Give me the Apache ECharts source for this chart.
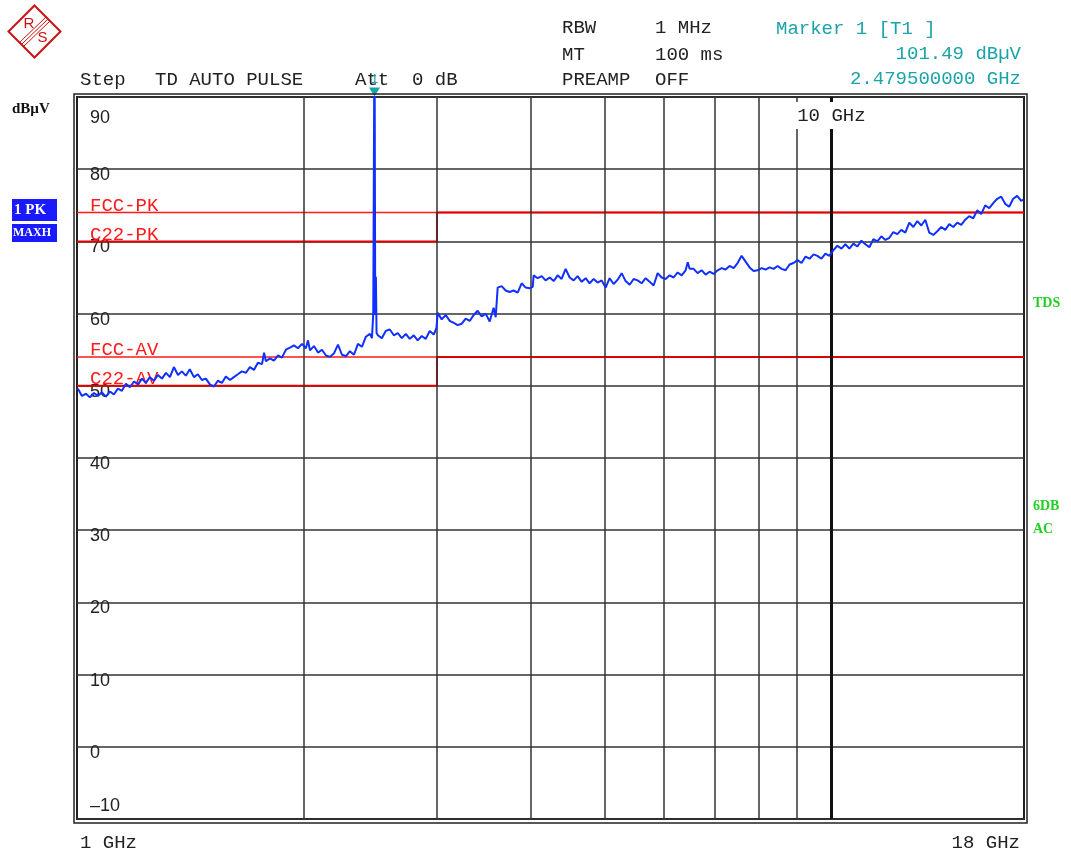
<!DOCTYPE html>
<html><head><meta charset="utf-8">
<script src="https://cdn.jsdelivr.net/npm/echarts@6/dist/echarts.min.js"></script>
<style>html,body{margin:0;padding:0;background:#fff}#c{width:1071px;height:852px}</style>
</head><body><div id="c"></div>
<script>
// ---- data (frequency in GHz, level in dBµV) ----
const freqGHz = [
1.003,1.015,1.028,1.040,1.053,1.066,1.079,1.092,1.106,1.119,1.133,1.147,1.161,1.175,1.190,1.205,1.219,1.234,1.249,1.265,
1.280,1.296,1.312,1.328,1.344,1.361,1.377,1.394,1.411,1.429,1.446,1.464,1.482,1.500,1.519,1.537,1.556,1.575,1.595,1.614,
1.634,1.654,1.675,1.695,1.716,1.737,1.759,1.770,1.780,1.802,1.824,1.847,1.869,1.892,1.916,1.939,1.963,1.987,2.011,2.024,
2.036,2.061,2.087,2.112,2.138,2.164,2.191,2.218,2.245,2.273,2.300,2.329,2.357,2.386,2.415,2.445,2.460,2.470,2.4795,2.485,
2.490,2.495,2.505,2.535,2.566,2.598,2.630,2.662,2.695,2.728,2.761,2.795,2.829,2.864,2.899,2.935,2.971,2.995,3.007,3.044,
3.082,3.119,3.158,3.196,3.236,3.275,3.316,3.356,3.397,3.439,3.481,3.524,3.567,3.589,3.611,3.655,3.700,3.745,3.791,3.838,
3.885,3.933,3.981,4.018,4.030,4.080,4.130,4.180,4.232,4.284,4.336,4.389,4.443,4.498,4.553,4.609,4.666,4.723,4.781,4.840,
4.899,4.959,5.020,5.082,5.144,5.208,5.272,5.336,5.402,5.468,5.535,5.603,5.672,5.742,5.812,5.884,5.956,6.029,6.103,6.178,
6.254,6.331,6.408,6.450,6.487,6.567,6.647,6.729,6.812,6.895,6.980,7.066,7.152,7.240,7.329,7.419,7.510,7.602,7.696,7.790,
7.886,7.983,8.081,8.180,8.281,8.382,8.485,8.589,8.695,8.801,8.909,9.019,9.129,9.241,9.355,9.470,9.582,9.700,9.819,9.939,
10.061,10.185,10.310,10.436,10.564,10.694,10.825,10.958,11.092,11.228,11.366,11.505,11.647,11.789,11.934,12.080,12.229,12.379,12.530,12.684,
12.840,12.997,13.157,13.318,13.481,13.647,13.814,13.984,14.155,14.329,14.505,14.683,14.863,15.045,15.230,15.417,15.606,15.797,15.991,16.187,
16.386,16.587,16.790,16.996,17.205,17.416,17.630,17.846,17.955
];
const levelDbuv = [
49.6,48.6,48.9,48.4,49.0,48.6,49.1,48.5,49.2,48.8,49.6,49.3,50.3,49.8,50.6,50.2,51.0,50.4,51.2,50.7,
51.5,51.0,51.8,51.2,52.6,51.5,52.0,51.4,52.3,51.2,51.6,50.8,51.0,50.2,49.9,50.7,50.4,51.3,50.8,51.2,
51.6,52.0,51.8,52.6,52.2,53.2,53.0,54.6,53.4,53.8,53.5,54.2,53.9,55.0,55.3,55.6,55.2,55.8,55.2,56.3,
54.9,55.5,54.6,55.0,54.2,54.0,54.5,55.7,54.3,54.1,54.8,54.3,55.8,55.4,56.8,57.2,56.6,60.0,101.49,59.8,
65.1,57.3,57.0,56.6,57.6,57.8,57.0,57.3,56.6,57.2,56.5,57.0,56.3,56.9,56.5,57.6,57.1,58.0,60.1,59.2,
59.8,59.0,58.7,58.4,58.6,59.3,59.0,59.8,60.4,59.6,60.0,58.9,60.8,59.5,63.6,63.8,63.2,63.0,63.2,62.9,
64.2,63.6,63.5,63.7,65.3,64.9,65.2,64.6,65.0,64.5,65.3,64.8,66.2,65.0,64.6,65.2,64.4,64.9,64.2,64.8,
64.3,64.6,63.6,64.9,64.1,64.7,65.6,64.5,64.0,64.8,64.6,64.2,64.9,64.4,63.9,65.6,65.0,64.8,65.3,65.0,
65.7,65.3,66.0,67.1,66.2,66.2,65.6,66.0,65.4,65.8,65.5,66.0,66.3,66.1,66.6,66.3,67.0,68.0,67.2,66.4,
65.9,66.0,66.3,66.1,66.4,66.2,66.6,66.2,66.0,66.8,67.0,67.4,67.0,67.9,67.6,68.2,68.0,67.6,68.3,68.0,
68.8,69.4,69.0,69.6,69.0,69.7,69.3,70.1,69.6,69.2,70.3,70.0,70.7,70.2,70.5,71.3,71.0,71.6,71.2,72.6,
72.0,72.8,72.2,73.0,71.2,70.9,71.4,72.0,71.6,72.4,72.0,72.6,72.3,73.0,73.5,73.2,74.3,73.8,75.0,74.6,
75.3,75.9,76.2,75.2,74.8,75.9,76.3,75.6,75.8
];
// limit lines
const fccPkFreq = [1, 18],        fccPkLevel = [74, 74];
const c22PkFreq = [1, 3, 3, 18],  c22PkLevel = [70, 70, 74, 74];
const fccAvFreq = [1, 18],        fccAvLevel = [54, 54];
const c22AvFreq = [1, 3, 3, 18],  c22AvLevel = [50, 50, 54, 54];
// marker
const markerFreq = 2.4795, markerLevel = 101.49;
// axes
const yMin = -10, yMax = 90, yStep = 10;
const fStart = 1, fStop = 18;
const freqGridLines = [2, 3, 4, 5, 6, 7, 8, 9];
const decadeLine = 10;
const edgeFreqLabels = [1, 18];

const pairs = (xs, ys) => xs.map((x, i) => [x, ys[i]]);
const MONO = 'Liberation Mono';
const RED = '#ff1a1a', RED2 = '#e00000', TEAL = '#1aa3a8', GREEN = '#22d022', DARK = '#222';

function limitSeries(name, xs, ys, color, width) {
  const d = pairs(xs, ys).map((p, i) => i === 0 ? {
    value: p,
    label: { show: true, formatter: name, position: [13, -16], color: RED, fontFamily: MONO, fontSize: 19 }
  } : { value: p });
  return { name, type: 'line', data: d, xAxisIndex: 0, showSymbol: true, symbol: 'circle', symbolSize: 0,
    lineStyle: { color, width }, itemStyle: { color }, silent: true, z: 3, animation: false };
}

const chart = echarts.init(document.getElementById('c'), null, { renderer: 'canvas' });
chart.setOption({
  animation: false,
  backgroundColor: '#fff',
  grid: { left: 77, right: 47, top: 97, bottom: 32, show: true, borderColor: '#222', borderWidth: 2, backgroundColor: '#fff' },
  xAxis: [
    { type: 'log', logBase: 10, min: fStart, max: fStop, position: 'top', z: 10,
      axisLine: { show: false }, axisTick: { show: false }, splitLine: { show: false },
      minorTick: { show: false }, minorSplitLine: { show: false },
      axisLabel: { inside: true, margin: 5, showMinLabel: false, showMaxLabel: false,
        formatter: v => Math.abs(v - decadeLine) < 1e-6 ? '{w|' + decadeLine + ' GHz}' : '',
        rich: { w: { backgroundColor: '#fff', padding: [4, 3, 4, 3], color: DARK, fontFamily: MONO, fontSize: 19 } } } },
    { type: 'value', min: fStart, max: fStop, position: 'bottom',
      axisLine: { show: false }, axisTick: { show: false }, splitLine: { show: false },
      axisLabel: { customValues: edgeFreqLabels, margin: 14, alignMinLabel: 'left', alignMaxLabel: 'right',
        formatter: v => v === fStart ? '{l|' + v + ' GHz}' : '{r|' + v + ' GHz}',
        rich: { l: { padding: [0, 0, 0, 3], color: DARK, fontFamily: MONO, fontSize: 19 },
                r: { padding: [0, 4, 0, 0], color: DARK, fontFamily: MONO, fontSize: 19 } },
        color: DARK, fontFamily: MONO, fontSize: 19 } }
  ],
  yAxis: {
    type: 'value', min: yMin, max: yMax, interval: yStep,
    axisLine: { show: false }, axisTick: { show: false },
    splitLine: { show: true, lineStyle: { color: '#333', width: 1.5 } },
    axisLabel: {
      inside: true, margin: 13, color: DARK, fontFamily: 'Liberation Sans', fontSize: 18,
      formatter: v => v === yMax ? '{t|' + v + '}' : v === yMin ? '{b|\u2013' + Math.abs(v) + '}' : '{n|' + v + '}',
      rich: {
        t: { padding: [42, 0, 0, 0], color: DARK, fontFamily: 'Liberation Sans', fontSize: 18 },
        n: { padding: [12, 0, 0, 0], color: DARK, fontFamily: 'Liberation Sans', fontSize: 18 },
        b: { padding: [0, 0, 26, 0], color: DARK, fontFamily: 'Liberation Sans', fontSize: 18 }
      }
    }
  },
  series: [
    { name: 'grid', type: 'line', data: [], xAxisIndex: 0, silent: true, z: 1,
      markLine: { silent: true, symbol: 'none', animation: false, label: { show: false },
        data: freqGridLines.map(f => ({ xAxis: f, lineStyle: { color: '#333', width: 1.5, type: 'solid' } }))
          .concat([{ xAxis: decadeLine, lineStyle: { color: '#111', width: 3, type: 'solid' } }]) } },
    limitSeries('FCC-PK', fccPkFreq, fccPkLevel, RED, 1.5),
    limitSeries('C22-PK', c22PkFreq, c22PkLevel, RED2, 2),
    limitSeries('FCC-AV', fccAvFreq, fccAvLevel, RED, 1.5),
    limitSeries('C22-AV', c22AvFreq, c22AvLevel, RED2, 2),
    { name: '1 PK MAXH', type: 'line', xAxisIndex: 0, data: pairs(freqGHz, levelDbuv), showSymbol: false,
      clip: true, z: 5, lineStyle: { color: '#1030ff', width: 2 }, itemStyle: { color: '#1030ff' }, animation: false,
      markPoint: { symbol: 'triangle', symbolRotate: 180, symbolSize: [11, 9], symbolOffset: [0, -5], silent: true,
        itemStyle: { color: TEAL },
        label: { show: true, position: 'top', distance: 1, formatter: '1', color: TEAL, fontFamily: MONO, fontSize: 13 },
        data: [{ coord: [markerFreq, yMax] }] } }
  ],
  graphic: [
    // R&S logo
    { type: 'group', left: 6, top: 3, children: [
      { type: 'polygon', shape: { points: [[26, 0], [52, 26], [26, 52], [0, 26]] }, style: { fill: 'none', stroke: '#cc1111', lineWidth: 2 } },
      { type: 'line', shape: { x1: 38, y1: 11, x2: 11, y2: 37 }, style: { stroke: '#cc1111', lineWidth: 1 } },
      { type: 'line', shape: { x1: 40, y1: 13, x2: 13, y2: 39 }, style: { stroke: '#cc1111', lineWidth: 1 } },
      { type: 'line', shape: { x1: 42, y1: 15, x2: 15, y2: 41 }, style: { stroke: '#cc1111', lineWidth: 1 } },
      { type: 'text', x: 15, y: 11, style: { text: 'R', fill: '#cc1111', font: '15px "Liberation Sans"' } },
      { type: 'text', x: 29, y: 25, style: { text: 'S', fill: '#cc1111', font: '15px "Liberation Sans"' } }
    ] },
    // header info
    { type: 'text', x: 80, y: 70, style: { text: 'Step', fill: DARK, font: '19px "Liberation Mono"' } },
    { type: 'text', x: 155, y: 70, style: { text: 'TD AUTO PULSE', fill: DARK, font: '19px "Liberation Mono"' } },
    { type: 'text', x: 355, y: 70, style: { text: 'Att  0 dB', fill: DARK, font: '19px "Liberation Mono"' } },
    { type: 'text', x: 562, y: 18, style: { text: 'RBW', fill: DARK, font: '19px "Liberation Mono"' } },
    { type: 'text', x: 655, y: 18, style: { text: '1 MHz', fill: DARK, font: '19px "Liberation Mono"' } },
    { type: 'text', x: 562, y: 45, style: { text: 'MT', fill: DARK, font: '19px "Liberation Mono"' } },
    { type: 'text', x: 655, y: 45, style: { text: '100 ms', fill: DARK, font: '19px "Liberation Mono"' } },
    { type: 'text', x: 562, y: 70, style: { text: 'PREAMP', fill: DARK, font: '19px "Liberation Mono"' } },
    { type: 'text', x: 655, y: 70, style: { text: 'OFF', fill: DARK, font: '19px "Liberation Mono"' } },
    { type: 'text', x: 776, y: 19, style: { text: 'Marker 1 [T1 ]', fill: TEAL, font: '19px "Liberation Mono"' } },
    { type: 'text', x: 1021, y: 44, style: { text: '101.49 dB\u00b5V', fill: TEAL, font: '19px "Liberation Mono"', align: 'right' } },
    { type: 'text', x: 1021, y: 69, style: { text: '2.479500000 GHz', fill: TEAL, font: '19px "Liberation Mono"', align: 'right' } },
    // left side
    { type: 'text', x: 12, y: 102, style: { text: 'dB\u00b5V', fill: '#111', font: 'bold 15px "Liberation Serif"' } },
    { type: 'rect', shape: { x: 12, y: 199, width: 45, height: 22 }, style: { fill: '#1a1aff' } },
    { type: 'rect', shape: { x: 12, y: 224, width: 45, height: 18 }, style: { fill: '#1a1aff' } },
    { type: 'text', x: 14, y: 203, style: { text: '1 PK', fill: '#fff', font: 'bold 15px "Liberation Serif"' } },
    { type: 'text', x: 13, y: 227, style: { text: 'MAXH', fill: '#fff', font: 'bold 12px "Liberation Serif"' } },
    // right side
    { type: 'text', x: 1033, y: 296, style: { text: 'TDS', fill: GREEN, font: 'bold 14px "Liberation Serif"' } },
    { type: 'text', x: 1033, y: 499, style: { text: '6DB', fill: GREEN, font: 'bold 14px "Liberation Serif"' } },
    { type: 'text', x: 1033, y: 522, style: { text: 'AC', fill: GREEN, font: 'bold 14px "Liberation Serif"' } },
    // outer frame line (double border look)
    { type: 'rect', z: 100, shape: { x: 74, y: 94, width: 953, height: 729 }, style: { fill: 'none', stroke: '#222', lineWidth: 1.5 } }
  ]
});
</script></body></html>
